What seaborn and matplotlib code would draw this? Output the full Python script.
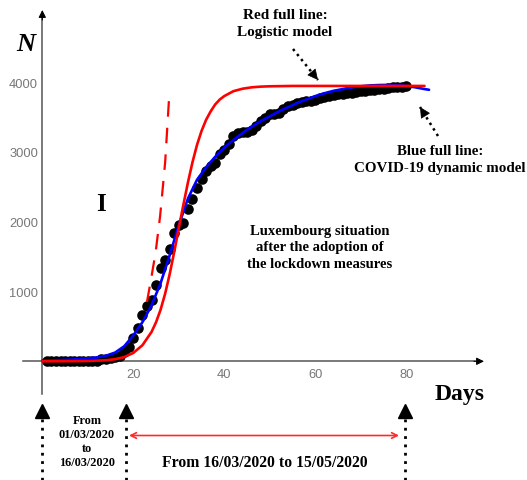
import numpy as np
import pandas as pd
import matplotlib
matplotlib.use("Agg")
import matplotlib.pyplot as plt
import seaborn as sns

# ---------------- data ----------------
days = list(range(1, 81))
cases = [1, 1, 1, 1, 1, 2, 3, 4, 5, 5, 7, 7, 26, 34, 51, 59, 81,
         140, 203, 335, 484, 670, 798, 875, 1099, 1333, 1453, 1605, 1831, 1950,
         1988, 2178, 2319, 2487, 2612, 2729, 2804, 2843, 2970, 3034, 3115, 3223,
         3270, 3281, 3292, 3307, 3373, 3444, 3480, 3537, 3550, 3558, 3618, 3654,
         3665, 3695, 3711, 3723, 3729, 3741, 3769, 3784, 3802, 3812, 3824, 3828,
         3840, 3851, 3859, 3871, 3877, 3886, 3888, 3894, 3904, 3915, 3923, 3930,
         3935, 3945]

# COVID-19 dynamic model (blue)
blue_days = [0, 2, 4, 6, 8, 10, 12, 14, 16, 18, 20, 22, 24, 26, 28, 30, 32, 34,
             36, 38, 40, 42, 44, 46, 48, 50, 52, 54, 56, 58, 60, 62, 64, 66, 68,
             70, 72, 74, 76, 78, 80, 82, 84, 85]
blue_vals = [10, 14, 18, 24, 32, 42, 56, 80, 125, 215, 370, 560, 800, 1120, 1520,
             1950, 2330, 2600, 2780, 2930, 3060, 3170, 3270, 3360, 3440, 3510,
             3580, 3640, 3700, 3750, 3800, 3840, 3875, 3900, 3925, 3940, 3952,
             3958, 3960, 3955, 3945, 3925, 3900, 3890]

# Logistic model (red)
red_days = [0, 5, 10, 14, 16, 18, 20, 22, 24, 25, 26, 27, 28, 29, 30, 31, 32, 33,
            34, 35, 36, 37, 38, 39, 40, 42, 44, 46, 48, 50, 55, 84]
red_vals = [0, 1, 4, 15, 30, 60, 120, 230, 420, 560, 740, 970, 1250, 1570, 1910,
            2240, 2560, 2850, 3100, 3300, 3460, 3580, 3680, 3750, 3800, 3870,
            3905, 3925, 3935, 3940, 3945, 3945]

# early exponential trend (red dashed)
exp_days = [23.0, 23.8, 24.9, 25.9, 27.0, 27.85]
exp_vals = [850, 1136, 1560, 2085, 2850, 3760]

x_major = [20, 40, 60, 80]
y_major = [1000, 2000, 3000, 4000]

# ---------------- figure ----------------
sns.set_style("white")
plt.rcParams['font.family'] = ['Liberation Serif', 'DejaVu Serif']

W, H = 527, 481
fig = plt.figure(figsize=(W / 100, H / 100), dpi=100)
ax = fig.add_axes([0, 0, 1, 1])

# pixel mapping: px = 42.3 + 4.55*day ; py = 362.3 - 0.0698*N
ax.set_xlim(-42.3 / 4.55, (W - 42.3) / 4.55)
ax.set_ylim((362.3 - H) / 0.0698, 362.3 / 0.0698)


def P(px, py):
    return (px / W, 1 - py / H)


sns.scatterplot(x=days, y=cases, color='black', s=58, linewidth=0, ax=ax,
                zorder=2, legend=False)
sns.lineplot(x=blue_days, y=blue_vals, color='#0000ff', lw=1.9, ax=ax,
             sort=False, estimator=None, zorder=3)
sns.lineplot(x=red_days, y=red_vals, color='#ff0000', lw=1.9, ax=ax,
             sort=False, estimator=None, zorder=4)
sns.lineplot(x=exp_days, y=exp_vals, color='#ff0000', lw=1.6, ax=ax,
             sort=False, estimator=None, zorder=4, linestyle=(0, (7, 5)))

# axes through the origin
for s in ['top', 'right']:
    ax.spines[s].set_visible(False)
ax.spines['left'].set_position(('data', 0))
ax.spines['bottom'].set_position(('data', 0))
ax.spines['left'].set_bounds(-470, 4990)
ax.spines['bottom'].set_bounds(-4.2, 95)
for s in ['left', 'bottom']:
    ax.spines[s].set_color('#555555')
    ax.spines[s].set_linewidth(1.1)
    ax.spines[s].set_zorder(1)

ax.set_xticks(x_major)
ax.set_xticks(list(range(5, 95, 5)), minor=True)
ax.set_yticks(y_major)
ax.set_yticks(list(range(-400, 4400, 200)), minor=True)
ax.set_xticklabels([str(v) for v in x_major])
ax.set_yticklabels([str(v) for v in y_major])
ax.tick_params(which='both', direction='in', color='#666666', width=0.8,
               labelcolor='#777777', labelsize=9.3)
ax.tick_params(which='major', length=5)
ax.tick_params(which='minor', length=3)
ax.tick_params(axis='x', pad=5)
ax.tick_params(axis='y', pad=3)
for lab in ax.get_xticklabels() + ax.get_yticklabels():
    lab.set_fontfamily('Liberation Sans')
ax.set_xlabel('')
ax.set_ylabel('')

# axis arrowheads
ax.annotate('', xy=P(484, 362.3), xytext=P(474, 362.3), xycoords=ax.transAxes,
            arrowprops=dict(arrowstyle='-|>', color='black', lw=0.8,
                            mutation_scale=11, shrinkA=0, shrinkB=0))
ax.annotate('', xy=P(42.3, 11), xytext=P(42.3, 21), xycoords=ax.transAxes,
            arrowprops=dict(arrowstyle='-|>', color='black', lw=0.8,
                            mutation_scale=11, shrinkA=0, shrinkB=0))

bold = dict(fontweight='bold', color='black', transform=ax.transAxes,
            ha='center', va='center')

ax.text(*P(26, 45), 'N', fontsize=19, style='italic', **bold)
ax.text(*P(460, 395), 'Days', fontsize=17, **bold)
ax.text(*P(101, 205), 'I', fontsize=18, **bold)

ax.text(*P(285, 24), 'Red full line:\nLogistic model', fontsize=11,
        linespacing=1.45, **bold)
ax.text(*P(440, 160), 'Blue full line:\nCOVID-19 dynamic model', fontsize=10.8,
        linespacing=1.45, **bold)
ax.text(*P(320, 248), 'Luxembourg situation\nafter the adoption of\nthe lockdown measures',
        fontsize=10.5, linespacing=1.3, **bold)
ax.text(*P(87, 442), 'From\n01/03/2020\nto\n16/03/2020', fontsize=8.8,
        linespacing=1.25, **bold)
ax.text(*P(265, 463), 'From 16/03/2020 to 15/05/2020', fontsize=11.3, **bold)

# dotted pointer arrows
def dotted_arrow(p0, p1, lw=1.8, ms=17):
    (x0, y0), (x1, y1) = P(*p0), P(*p1)
    ax.plot([x0, x1], [y0, y1], transform=ax.transAxes, color='black', lw=lw,
            linestyle=(0, (1, 1.6)), solid_capstyle='butt', clip_on=False)
    dx, dy = x1 - x0, y1 - y0
    ax.annotate('', xy=(x1, y1), xytext=(x1 - 0.15 * dx, y1 - 0.15 * dy),
                xycoords=ax.transAxes,
                arrowprops=dict(arrowstyle='-|>', color='black', lw=0.5,
                                mutation_scale=ms, shrinkA=0, shrinkB=0))

dotted_arrow((293, 50), (318, 81))
dotted_arrow((438, 137), (420, 108))

# bottom period markers
for px in [42.3, 126, 405]:
    ax.plot([px / W, px / W], [1 - 420 / H, 0], transform=ax.transAxes,
            color='black', lw=2.0, linestyle=(0, (1, 2)), clip_on=False)
    ax.plot([px / W], [1 - 412 / H], transform=ax.transAxes, marker='^',
            color='black', ms=10, clip_on=False)

ax.annotate('', xy=P(399, 436.5), xytext=P(129, 436.5), xycoords=ax.transAxes,
            arrowprops=dict(arrowstyle='<->', color='#ff2a2a', lw=1.2,
                            mutation_scale=10, shrinkA=0, shrinkB=0))

fig.savefig('out.png', dpi=100)
